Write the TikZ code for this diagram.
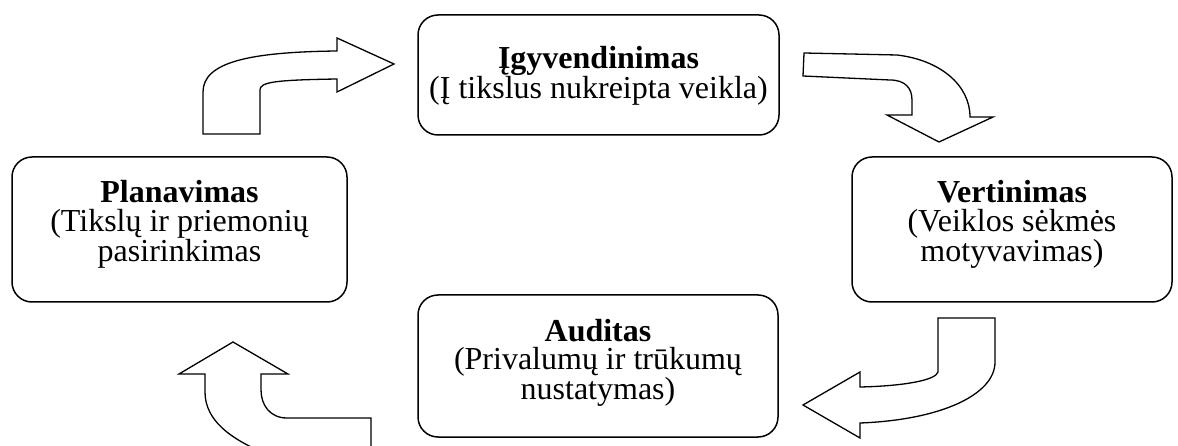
\documentclass[tikz,border=0pt]{standalone}
\usepackage{fontspec}
\setmainfont{Liberation Serif}

\begin{document}
\begin{tikzpicture}[
  x=1pt, y=-1pt,
  stagebox/.style={draw, rounded corners=20pt, line width=1.5pt, inner sep=0pt},
  stagetext/.style={align=center, font=\fontsize{32}{28.5}\selectfont,
                    inner sep=0pt},
  bentarrow/.style={draw, line width=1.3pt, fill=white, line join=miter}
]
  \useasboundingbox (0,0) rectangle (1178,446);
  \clip (0,0) rectangle (1178,446);

  % the four stages
  \node[stagebox, minimum width=361pt, minimum height=120pt] (impl) at (598.5,75) {};
  \node[stagebox, minimum width=335pt, minimum height=145pt] (plan) at (179.5,229.5) {};
  \node[stagebox, minimum width=320pt, minimum height=145pt] (eval) at (1012,229.5) {};
  \node[stagebox, minimum width=360pt, minimum height=142pt] (audit) at (598,366) {};

  \node[stagetext] (impltxt) at ([yshift=-1pt]impl.center)
    {\textbf{Įgyvendinimas}\\(Į tikslus nukreipta veikla)};
  \node[stagetext] (plantxt) at ([yshift=5pt]plan.center)
    {\textbf{Planavimas}\\(Tikslų ir priemonių\\pasirinkimas};
  \node[stagetext] (evaltxt) at ([yshift=5pt]eval.center)
    {\textbf{Vertinimas}\\(Veiklos sėkmės\\motyvavimas)};
  \node[stagetext] (audittxt) at ([yshift=3pt]audit.center)
    {\textbf{Auditas}\\(Privalumų ir trūkumų\\nustatymas)};

  % bent block arrows between the stages
  \draw[bentarrow] (203,134) -- (203,92) .. controls (203,62) and (250,52) .. (337,51)
    -- (337,38) -- (394,64) -- (337,92) -- (337,79)
    .. controls (275,80) and (260,82) .. (260,90) -- (260,134) -- cycle;

  \draw[bentarrow] (804,53) -- (897,55) .. controls (940,60) and (970,85) .. (970,117)
    -- (993,117) -- (939,142) -- (887,115) -- (912,115) -- (912,100)
    .. controls (912,88) and (905,80) .. (890,80) -- (803,76) -- cycle;

  \draw[bentarrow] (938,318) -- (995,318) -- (995,362)
    .. controls (995,395) and (940,420) .. (860,423)
    -- (860,438) -- (803,405) -- (860,372) -- (860,387)
    .. controls (905,386) and (936,380) .. (938,372) -- cycle;

  \draw[bentarrow] (233,342) -- (179,374) -- (205,374) -- (205,392)
    .. controls (205,420) and (230,445) .. (300,465) -- (371,465) -- (371,418)
    -- (287,418) .. controls (270,418) and (261,405) .. (261,390)
    -- (261,374) -- (288,374) -- cycle;
\end{tikzpicture}
\end{document}
